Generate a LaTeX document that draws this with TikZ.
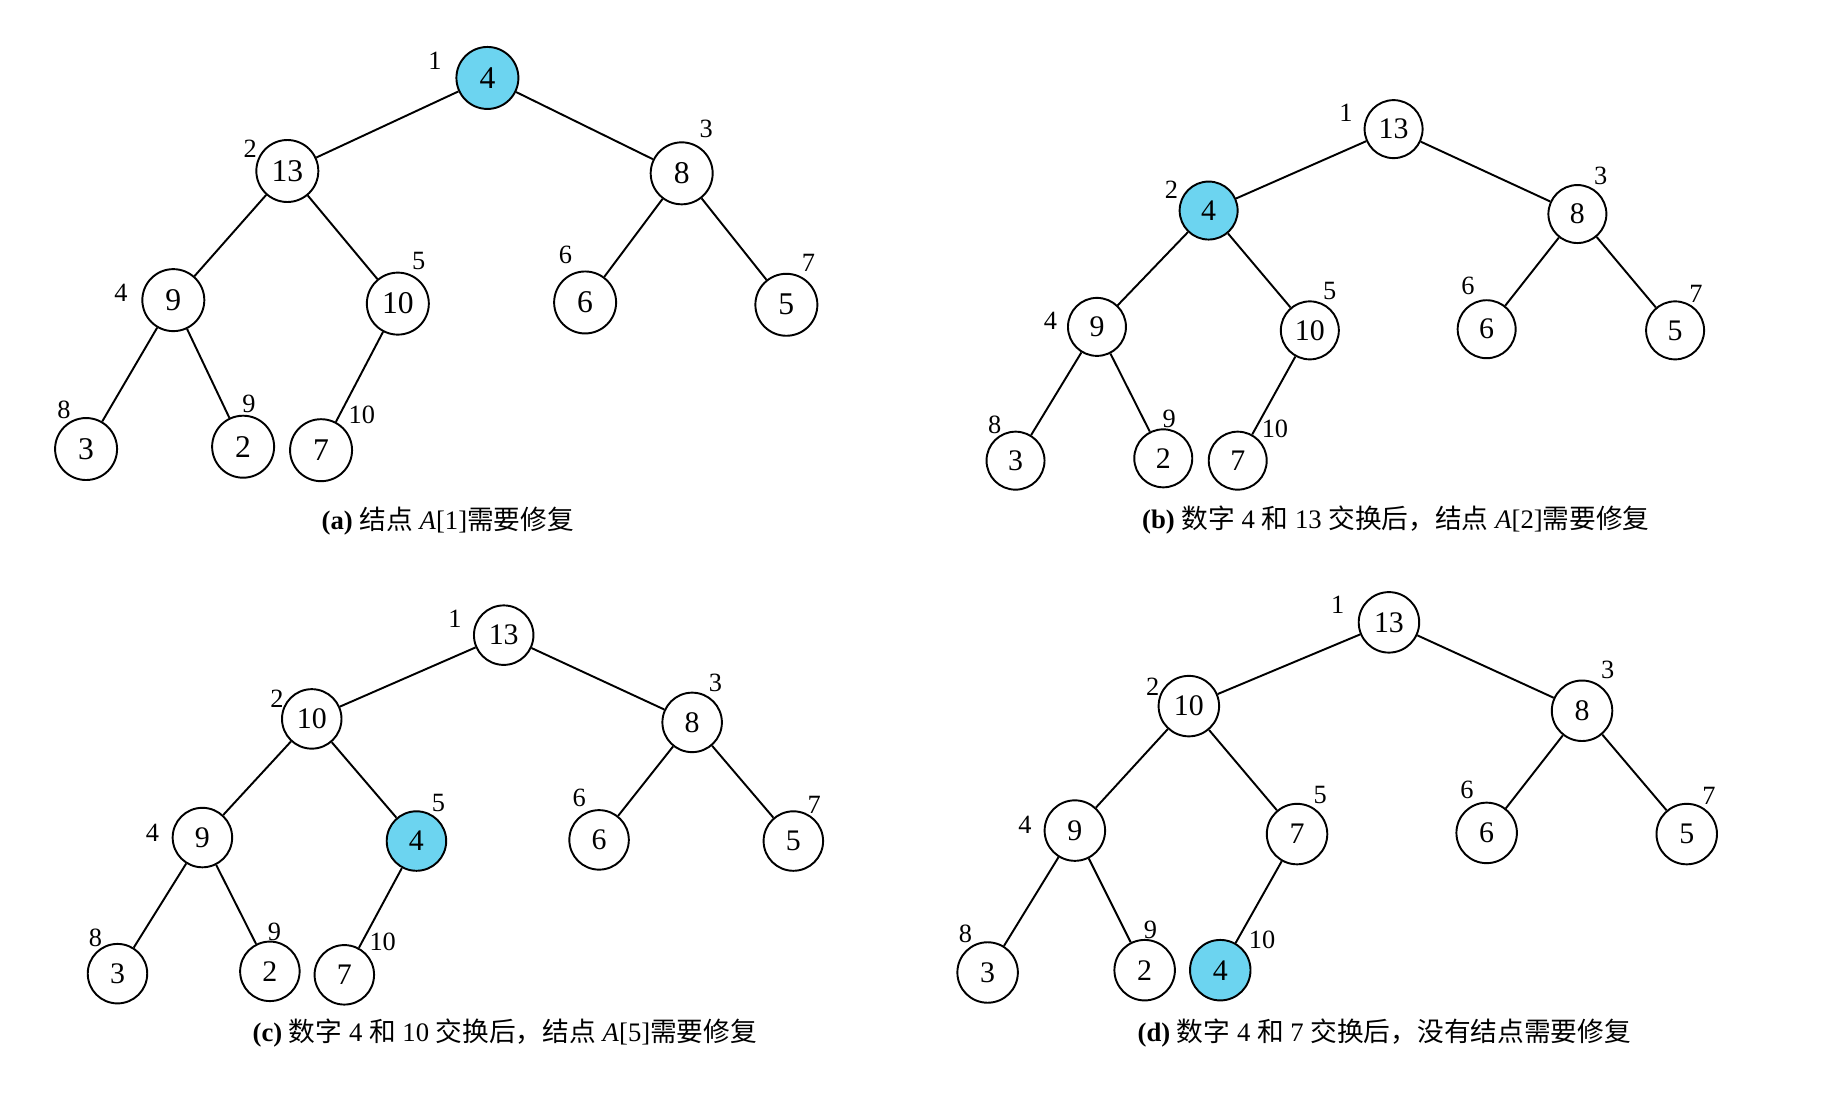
\documentclass[tikz,border=0pt]{standalone}
\usepackage{fontspec}
\setmainfont{Liberation Serif}
\newfontfamily\cjk{Noto Sans CJK SC}
\definecolor{heapblue}{RGB}{108,212,240}
\tikzset{
  vtx/.style={circle, draw, line width=1.1pt, inner sep=0pt, minimum size=1.2cm,
    font=\fontsize{18}{20}\selectfont},
  hot/.style={fill=heapblue},
  idx/.style={inner sep=0pt, font=\fontsize{15}{17}\selectfont},
  captxt/.style={inner sep=0pt, font=\fontsize{15.2}{18}\selectfont}
}
\begin{document}
\begin{tikzpicture}[x=0.02327cm, y=-0.02327cm, line width=1.1pt]
    \useasboundingbox (0,0) rectangle (1568,942);
    % (a) 结点 A[1]
    \begin{scope}[vtx/.append style={minimum size=1.24cm}]
    \node[vtx, hot] (a1) at (419,67) {4};
    \node[vtx] (a2) at (247,147) {13};
    \node[vtx] (a3) at (586,149) {8};
    \node[vtx] (a4) at (149,258) {9};
    \node[vtx] (a5) at (342,261) {10};
    \node[vtx] (a6) at (503,260) {6};
    \node[vtx] (a7) at (676,262) {5};
    \node[vtx] (a8) at (74,386) {3};
    \node[vtx] (a9) at (209,384) {2};
    \node[vtx] (a10) at (276,387) {7};
    \end{scope}
    \node[idx] (la1) at (374,52) {1};
    \node[idx] (la2) at (215,128) {2};
    \node[idx] (la3) at (607,111) {3};
    \node[idx] (la4) at (104,252) {4};
    \node[idx] (la5) at (360,224) {5};
    \node[idx] (la6) at (486,219) {6};
    \node[idx] (la7) at (695,226) {7};
    \node[idx] (la8) at (55,352) {8};
    \node[idx] (la9) at (214,347) {9};
    \node[idx] (la10) at (311,357) {10};
    \node[captxt] (capa) at (385,448) {\textbf{(a)} {\cjk 结点} \textit{A}[1]{\cjk 需要修复}};

    % (b) 4 和 13 交换
    \begin{scope}[vtx/.append style={minimum size=1.16cm, font=\fontsize{17}{19}\selectfont}]
    \node[vtx] (b1) at (1198,111) {13};
    \node[vtx, hot] (b2) at (1039,181) {4};
    \node[vtx] (b3) at (1356,184) {8};
    \node[vtx] (b4) at (943,281) {9};
    \node[vtx] (b5) at (1126,284) {10};
    \node[vtx] (b6) at (1278,283) {6};
    \node[vtx] (b7) at (1440,284) {5};
    \node[vtx] (b8) at (873,396) {3};
    \node[vtx] (b9) at (1000,394) {2};
    \node[vtx] (b10) at (1064,396) {7};
    \end{scope}
    \node[idx] (lb1) at (1157,97) {1};
    \node[idx] (lb2) at (1007,163) {2};
    \node[idx] (lb3) at (1376,151) {3};
    \node[idx] (lb4) at (903,276) {4};
    \node[idx] (lb5) at (1143,250) {5};
    \node[idx] (lb6) at (1262,246) {6};
    \node[idx] (lb7) at (1458,253) {7};
    \node[idx] (lb8) at (855,365) {8};
    \node[idx] (lb9) at (1005,360) {9};
    \node[idx] (lb10) at (1096,369) {10};
    \node[captxt] (capb) at (1200,447) {\textbf{(b)} {\cjk 数字} 4 {\cjk 和} 13 {\cjk 交换后，结点} \textit{A}[2]{\cjk 需要修复}};

    % (c) 4 和 10 交换
    \begin{scope}[vtx/.append style={minimum size=1.19cm, font=\fontsize{17}{19}\selectfont}]
    \node[vtx] (c1) at (433,546) {13};
    \node[vtx] (c2) at (268,618) {10};
    \node[vtx] (c3) at (595,621) {8};
    \node[vtx] (c4) at (174,720) {9};
    \node[vtx, hot] (c5) at (358,723) {4};
    \node[vtx] (c6) at (515,722) {6};
    \node[vtx] (c7) at (682,723) {5};
    \node[vtx] (c8) at (101,837) {3};
    \node[vtx] (c9) at (232,835) {2};
    \node[vtx] (c10) at (296,838) {7};
    \end{scope}
    \node[idx] (lc1) at (391,532) {1};
    \node[idx] (lc2) at (238,601) {2};
    \node[idx] (lc3) at (615,587) {3};
    \node[idx] (lc4) at (131,716) {4};
    \node[idx] (lc5) at (377,690) {5};
    \node[idx] (lc6) at (498,686) {6};
    \node[idx] (lc7) at (700,692) {7};
    \node[idx] (lc8) at (82,806) {8};
    \node[idx] (lc9) at (236,801) {9};
    \node[idx] (lc10) at (329,810) {10};
    \node[captxt] (capc) at (434,888) {\textbf{(c)} {\cjk 数字} 4 {\cjk 和} 10 {\cjk 交换后，结点} \textit{A}[5]{\cjk 需要修复}};

    % (d) 4 和 7 交换
    \begin{scope}[vtx/.append style={minimum size=1.21cm, font=\fontsize{17}{19}\selectfont}]
    \node[vtx] (d1) at (1194,535) {13};
    \node[vtx] (d2) at (1022,607) {10};
    \node[vtx] (d3) at (1360,611) {8};
    \node[vtx] (d4) at (924,714) {9};
    \node[vtx] (d5) at (1115,717) {7};
    \node[vtx] (d6) at (1278,716) {6};
    \node[vtx] (d7) at (1450,717) {5};
    \node[vtx] (d8) at (849,836) {3};
    \node[vtx] (d9) at (984,834) {2};
    \node[vtx, hot] (d10) at (1049,834) {4};
    \end{scope}
    \node[idx] (ld1) at (1150,520) {1};
    \node[idx] (ld2) at (991,590) {2};
    \node[idx] (ld3) at (1382,576) {3};
    \node[idx] (ld4) at (881,709) {4};
    \node[idx] (ld5) at (1135,683) {5};
    \node[idx] (ld6) at (1261,679) {6};
    \node[idx] (ld7) at (1469,684) {7};
    \node[idx] (ld8) at (830,803) {8};
    \node[idx] (ld9) at (989,799) {9};
    \node[idx] (ld10) at (1085,808) {10};
    \node[captxt] (capd) at (1190,888) {\textbf{(d)} {\cjk 数字} 4 {\cjk 和} 7 {\cjk 交换后，没有结点需要修复}};

    % 树边
    \foreach \t in {a,b,c,d}
        \foreach \p/\q in {1/2,1/3,2/4,2/5,3/6,3/7,4/8,4/9,5/10}
            \draw (\t\p) -- (\t\q);
\end{tikzpicture}
\end{document}
